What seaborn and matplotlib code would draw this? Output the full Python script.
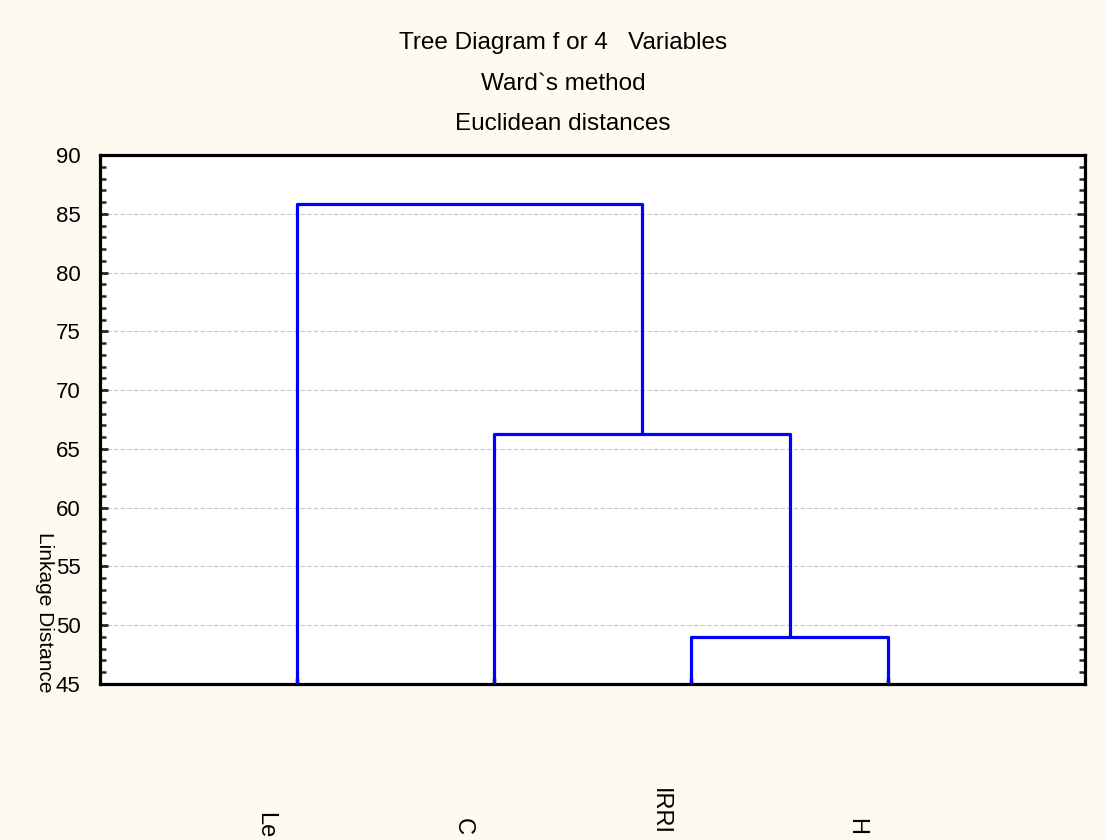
"""Tree diagram (Ward's method, Euclidean distances) for 4 variables."""
import matplotlib
matplotlib.use("Agg")
import matplotlib.pyplot as plt
import matplotlib.transforms as mtransforms
import numpy as np
import seaborn as sns
from matplotlib.ticker import MultipleLocator

# Leaves in dendrogram order (labels are cut off at the bottom in the original)
leaf_labels = ["Le", "C", "IRRI", "H"]
# label start (top, in figure px from top) as seen in the picture
label_top_px = [812, 818, 788, 818]

# Linkage steps: (left member, right member, height); members >= 4 are earlier clusters
merge_left = [2, 1, 0]
merge_right = [3, 4, 5]
merge_height = [49.0, 66.3, 85.8]

BLUE = "#0000FF"
FIG_BG = "#FFFAF0"

sns.set_style("white")
plt.rcParams["font.family"] = ["Liberation Sans", "DejaVu Sans"]
plt.rcParams["text.color"] = "black"
plt.rcParams["axes.labelcolor"] = "black"

fig = plt.figure(figsize=(11.05, 8.4), dpi=100, facecolor=FIG_BG)
ax = fig.add_axes([100 / 1105, 1 - 684 / 840, 985 / 1105, 529 / 840])
ax.set_facecolor("white")

# build dendrogram segments from the linkage lists
n = len(leaf_labels)
node_x = {i: i + 1.0 for i in range(n)}
node_y = {i: 45.0 for i in range(n)}
for k, (a, b, h) in enumerate(zip(merge_left, merge_right, merge_height)):
    xs = [node_x[a], node_x[a], node_x[b], node_x[b]]
    ys = [node_y[a], h, h, node_y[b]]
    sns.lineplot(x=xs, y=ys, sort=False, estimator=None, ax=ax,
                 color=BLUE, linewidth=2.3, zorder=3)
    node_x[n + k] = (node_x[a] + node_x[b]) / 2
    node_y[n + k] = h

ax.set_xlim(0, 5)
ax.set_ylim(45, 90)
ax.yaxis.set_major_locator(MultipleLocator(5))
ax.yaxis.set_minor_locator(MultipleLocator(1))
ax.set_xticks(np.arange(1, n + 1))
ax.set_xticklabels([])
ax.tick_params(axis="x", direction="in", length=4, width=2.5, color="black",
               bottom=True, top=False)
ax.tick_params(axis="y", which="major", direction="in", length=6, width=2,
               left=True, right=True, labelsize=16, pad=14, labelcolor="black")
ax.tick_params(axis="y", which="minor", direction="in", length=4, width=1.8,
               left=True, right=True)
ax.grid(axis="y", which="major", linestyle=(0, (4, 2)), color="#C8C8C8", linewidth=0.8)
ax.set_axisbelow(True)
for sp in ax.spines.values():
    sp.set_visible(True)
    sp.set_color("black")
    sp.set_linewidth(2.3)

# titles
for txt, ypx in [("Tree Diagram f or 4   Variables", 49),
                 ("Ward`s method", 90),
                 ("Euclidean distances", 130)]:
    fig.text(563 / 1105, 1 - ypx / 840, txt, ha="center", va="baseline",
             fontsize=17.5, color="black")

fig.text(44 / 1105, 1 - 612 / 840, "Linkage Distance", rotation=270,
         ha="center", va="center", fontsize=15, color="black")

# rotated leaf labels near the figure bottom
trans = mtransforms.blended_transform_factory(ax.transData, fig.transFigure)
for i, (lab, top) in enumerate(zip(leaf_labels, label_top_px)):
    ax.text(i + 1 - 0.16, 1 - top / 840, lab, rotation=270, transform=trans,
            ha="center", va="top", fontsize=17, color="black", clip_on=False)

fig.savefig("out.png", dpi=100, facecolor=FIG_BG)
